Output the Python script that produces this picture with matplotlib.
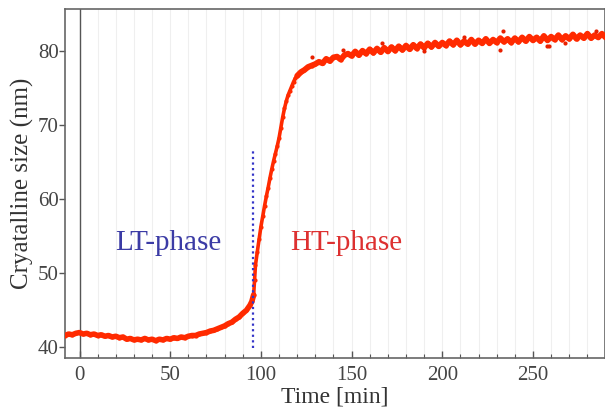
import matplotlib
matplotlib.use("Agg")
import matplotlib.pyplot as plt
import numpy as np

# ---- data ----
time_min = [-8, -6, -4, -2, 0, 2, 4, 6, 8, 10, 12, 14, 16, 18, 20, 22, 24, 26, 28, 30,
            32, 34, 36, 38, 40, 42, 44, 46, 48, 50, 52, 54, 56, 58, 60, 62, 64, 66, 68, 70,
            72, 74, 76, 78, 80, 82, 84, 86, 88, 90, 92, 94, 95,
            96, 96.5, 97, 98, 99, 100, 101, 102, 103, 104, 105, 106, 107, 108, 109, 110,
            111, 112, 113, 114, 115, 116, 117, 118, 119, 120, 122, 124, 126, 128, 130,
            132, 134, 136, 138, 140, 142, 144, 146, 148, 150,
            152, 154, 156, 158, 160, 162, 164, 166, 168, 170, 172, 174, 176, 178, 180,
            182, 184, 186, 188, 190, 192, 194, 196, 198, 200, 202, 204, 206, 208, 210,
            212, 214, 216, 218, 220, 222, 224, 226, 228, 230, 232, 234, 236, 238, 240,
            242, 244, 246, 248, 250, 252, 254, 256, 258, 260, 262, 264, 266, 268, 270,
            272, 274, 276, 278, 280, 282, 284, 286, 288, 290]
size_nm = [41.5, 41.7, 41.6, 41.8, 41.9, 41.7, 41.8, 41.6, 41.7, 41.5, 41.6, 41.4, 41.5, 41.3, 41.4, 41.2, 41.3, 41.0, 41.1, 40.9,
           41.0, 40.9, 41.1, 40.9, 41.0, 40.8, 41.0, 40.9, 41.1, 41.0, 41.2, 41.1, 41.3, 41.2, 41.4, 41.5, 41.5, 41.7, 41.8, 41.9,
           42.1, 42.2, 42.4, 42.6, 42.8, 43.1, 43.3, 43.7, 44.0, 44.5, 44.9, 45.6, 46.1,
           47.0, 49.0, 51.0, 52.8, 54.5, 56.2, 57.6, 59.0, 60.3, 61.5, 62.8, 64.0, 65.1, 66.1, 67.1, 68.2,
           69.6, 71.0, 72.2, 73.2, 74.0, 74.6, 75.2, 75.8, 76.3, 76.6, 77.1, 77.4, 77.8, 78.0, 78.2,
           78.5, 78.3, 78.9, 78.6, 79.1, 79.2, 78.8, 79.4, 79.6, 79.3,
           79.9, 79.4, 80.0, 79.6, 80.2, 79.7, 80.3, 79.8, 80.4, 79.9, 80.5, 80.0, 80.6, 80.1, 80.7,
           80.2, 80.8, 80.3, 80.9, 80.4, 81.0, 80.5, 81.1, 80.6, 81.1, 80.7, 81.3, 80.8, 81.4, 80.8,
           81.3, 80.9, 81.5, 80.9, 81.4, 81.0, 81.6, 81.0, 81.5, 81.1, 81.7, 81.2, 81.6, 81.1, 81.7,
           81.2, 81.8, 81.3, 81.9, 81.4, 81.8, 81.3, 82.0, 81.4, 81.9, 81.5, 82.1, 81.5, 82.0, 81.6,
           82.2, 81.6, 82.1, 81.7, 82.3, 81.7, 82.1, 81.8, 82.3, 81.8]

# scattered stray points
stray_t = [128, 145, 166.6, 190, 212, 232, 233.5, 258, 259, 267.6, 285]
stray_y = [79.2, 80.1, 81.1, 80.0, 81.9, 80.1, 82.6, 80.6, 80.7, 81.0, 82.6]

transition_t = 95.6
transition_y = [39.8, 66.6]
x_ticks = [0, 50, 100, 150, 200, 250]
y_ticks = [40, 50, 60, 70, 80]

plt.rcParams['font.family'] = ['Liberation Serif', 'DejaVu Serif']

fig = plt.figure(figsize=(6.05, 4.12), dpi=100)
ax = fig.add_axes([65/605, 1 - 357.7/412, (605 - 65)/605, (357.7 - 9.3)/412])

ax.set_xlim(-8.0, 289.7)
ax.set_ylim(38.5, 85.6)

# light vertical grid every 10 min
for gx in range(0, 300, 10):
    ax.axvline(gx, color='#efefef', lw=0.8, zorder=0)
ax.axvline(0, color='#555555', lw=1.0, zorder=1)

t = np.array(time_min)
y = np.array(size_nm)
red = '#ff2a00'
pre = t <= 96
rise = (t >= 96) & (t <= 120)
post = t >= 120
ax.plot(t[pre], y[pre], color=red, lw=4.0, solid_capstyle='round', zorder=3)
ax.plot(t[rise], y[rise], color=red, lw=2.6, solid_capstyle='round', zorder=3)
ax.plot(t[post], y[post], color=red, lw=4.2, solid_capstyle='round', zorder=3)
ax.plot(t, y, 'o', color=red, ms=3, mec='none', zorder=3)
ax.plot(stray_t, stray_y, 'o', color='#e82000', ms=3, mec='none', zorder=3)

ax.plot([transition_t, transition_t], transition_y, color='#3535c8', lw=1.6,
        ls=(0, (1, 1.5)), zorder=4)

ax.text(48.8, 53.1, 'LT-phase', color='#3b3ba5', fontsize=21, ha='center', va='baseline')
ax.text(146.8, 53.1, 'HT-phase', color='#dd3030', fontsize=21, ha='center', va='baseline')

ax.set_xticks(x_ticks)
ax.set_yticks(y_ticks)
ax.set_xticks(range(10, 290, 10), minor=True)
ax.tick_params(axis='x', direction='in', length=5, width=1, colors='#555555',
               labelcolor='#444444', labelsize=15, pad=6)
ax.tick_params(axis='x', which='minor', direction='in', length=3, width=0.8, colors='#555555')
ax.tick_params(axis='y', direction='out', length=4, width=1, colors='#555555',
               labelcolor='#444444', labelsize=15, pad=0.5)

for s in ['left', 'top', 'bottom', 'right']:
    ax.spines[s].set_color('#666666')
    ax.spines[s].set_linewidth(1.2)

ax.set_xlabel('Time [min]', fontsize=17, color='#333333', labelpad=1)
ax.set_ylabel('Cryatalline size (nm)', fontsize=18, color='#333333', labelpad=3)

fig.savefig('out.png', dpi=100)
